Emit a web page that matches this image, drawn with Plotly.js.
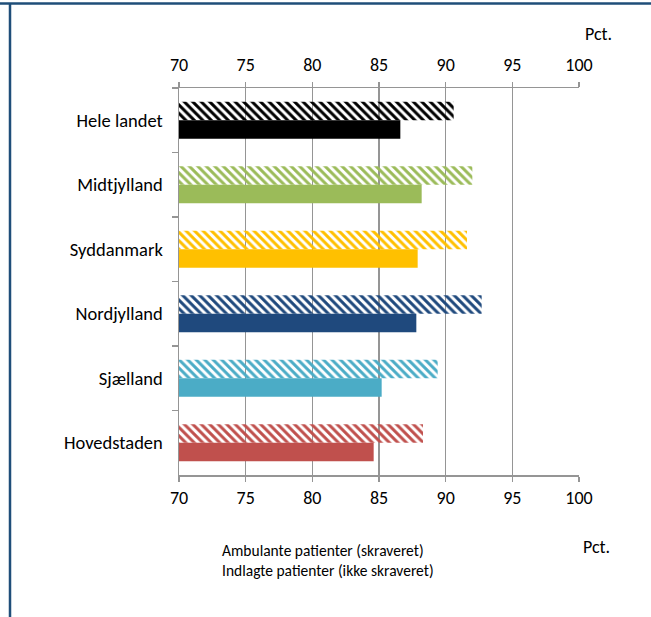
<!DOCTYPE html>
<html>
<head>
<meta charset="utf-8">
<script src="https://cdn.plot.ly/plotly-3.0.1.min.js"></script>
<style>html,body{margin:0;padding:0;background:#fff;}#chart{width:651px;height:617px;}</style>
</head>
<body>
<div id="chart"></div>
<script>
const categories = ['Hele landet', 'Midtjylland', 'Syddanmark', 'Nordjylland', 'Sjælland', 'Hovedstaden'];
const ambulante = [90.6, 92.0, 91.6, 92.7, 89.4, 88.3];
const indlagte = [86.6, 88.2, 87.9, 87.8, 85.2, 84.6];
const regionColors = ['#000000', '#9BBB59', '#FFC000', '#1F497D', '#4BACC6', '#C0504D'];
const xTicks = [70, 75, 80, 85, 90, 95, 100];

const FONT = 'Carlito, Lato, "Open Sans", sans-serif';
const GRID = '#959595';

const traces = [
  {
    type: 'bar', orientation: 'h', name: 'Ambulante patienter (skraveret)',
    y: categories, x: ambulante,
    marker: {
      color: regionColors,
      line: {width: 0},
      pattern: {shape: '\\', fillmode: 'replace', fgcolor: regionColors, bgcolor: '#ffffff', size: 6, solidity: 0.5}
    },
    hoverinfo: 'x+y'
  },
  {
    type: 'bar', orientation: 'h', name: 'Indlagte patienter (ikke skraveret)',
    y: categories, x: indlagte,
    marker: {color: regionColors, line: {width: 0}},
    hoverinfo: 'x+y'
  },
  {
    type: 'scatter', mode: 'markers', x: [], y: [], xaxis: 'x2', yaxis: 'y',
    showlegend: false, hoverinfo: 'skip'
  }
];

const layout = {
  width: 651, height: 617,
  margin: {l: 179, r: 72, t: 88, b: 142},
  paper_bgcolor: '#ffffff', plot_bgcolor: '#ffffff',
  font: {family: FONT, size: 18, color: '#000000'},
  showlegend: false,
  barmode: 'group', bargap: 0.43, bargroupgap: 0,
  xaxis: {
    range: [70, 100], tickvals: xTicks, ticktext: xTicks.map(String),
    side: 'top', showgrid: true, gridcolor: GRID, gridwidth: 1.5,
    showline: true, linecolor: GRID, linewidth: 1.5, mirror: 'allticks',
    ticks: 'outside', ticklen: 5, tickcolor: GRID, tickwidth: 1.5,
    ticklabelstandoff: 3,
    zeroline: false, fixedrange: true,
    tickfont: {family: FONT, size: 18}
  },
  xaxis2: {
    range: [70, 100], tickvals: xTicks, ticktext: xTicks.map(String),
    overlaying: 'x', side: 'bottom', anchor: 'y',
    showgrid: false, showline: false, ticks: '', zeroline: false,
    ticklabelstandoff: 10,
    tickfont: {family: FONT, size: 18}, fixedrange: true
  },
  yaxis: {
    type: 'category', autorange: 'reversed',
    showline: true, linecolor: GRID, linewidth: 1.5,
    ticks: 'outside', tickson: 'boundaries', ticklen: 6, tickcolor: GRID, tickwidth: 1.5,
    ticklabelstandoff: 11,
    showgrid: false, zeroline: false, fixedrange: true,
    tickfont: {family: FONT, size: 18.5}
  },
  shapes: [
    {type: 'line', xref: 'paper', yref: 'paper', x0: -0.45, x1: 1.2, y0: 1.2183, y1: 1.2183,
     line: {color: '#1F4E79', width: 2.5}},
    {type: 'line', xref: 'paper', yref: 'paper', x0: -0.4225, x1: -0.4225, y0: 1.2183, y1: -0.38,
     line: {color: '#1F4E79', width: 2.5}}
  ],
  annotations: [
    {xref: 'paper', yref: 'paper', x: (598 - 179) / 400, y: (475 - 34) / 387, text: 'Pct.',
     showarrow: false, xanchor: 'center', yanchor: 'middle', font: {family: FONT, size: 18}},
    {xref: 'paper', yref: 'paper', x: (596 - 179) / 400, y: (475 - 547) / 387, text: 'Pct.',
     showarrow: false, xanchor: 'center', yanchor: 'middle', font: {family: FONT, size: 18}},
    {xref: 'paper', yref: 'paper', x: (220 - 179) / 400, y: (475 - 560) / 387,
     text: 'Ambulante patienter (skraveret)<br>Indlagte patienter (ikke skraveret)',
     showarrow: false, xanchor: 'left', yanchor: 'middle', align: 'left',
     font: {family: FONT, size: 15.5}}
  ]
};

Plotly.newPlot('chart', traces, layout, {displayModeBar: false, staticPlot: true});
</script>
</body>
</html>
